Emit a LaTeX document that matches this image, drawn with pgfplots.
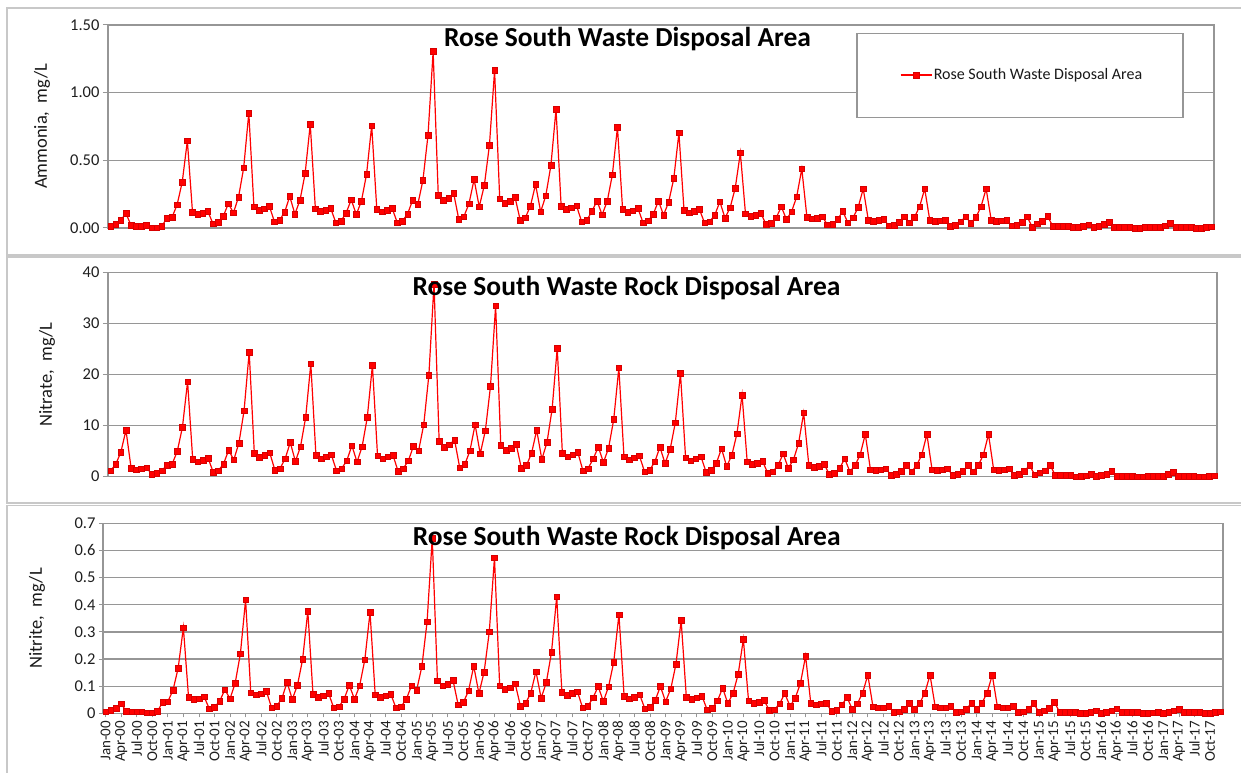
\documentclass[border=0pt]{standalone}
\usepackage{fontspec}
\setmainfont{Carlito}
\usepackage{pgfplots}
\usepackage{pgfplotstable}
\pgfplotsset{compat=1.18}

\definecolor{seriesred}{RGB}{255,0,0}
\definecolor{markedge}{RGB}{215,0,0}
\definecolor{gridgray}{RGB}{150,150,150}
\definecolor{framegray}{RGB}{200,200,200}
\definecolor{ticktext}{RGB}{30,30,30}

% Monthly results, index 0 = Jan-00 ... 215 = Dec-17
\pgfplotstableread{
m v
0 0.012
1 0.030
2 0.057
3 0.108
4 0.020
5 0.015
6 0.015
7 0.020
8 0.003
9 0.003
10 0.012
11 0.074
12 0.079
13 0.172
14 0.340
15 0.644
16 0.118
17 0.100
18 0.110
19 0.123
20 0.032
21 0.042
22 0.086
23 0.180
24 0.113
25 0.229
26 0.445
27 0.850
28 0.157
29 0.133
30 0.143
31 0.162
32 0.047
33 0.057
34 0.118
35 0.233
36 0.103
37 0.206
38 0.403
39 0.767
40 0.143
41 0.123
42 0.133
43 0.145
44 0.039
45 0.052
46 0.110
47 0.209
48 0.100
49 0.200
50 0.398
51 0.757
52 0.138
53 0.120
54 0.130
55 0.145
56 0.039
57 0.052
58 0.103
59 0.206
60 0.174
61 0.351
62 0.686
63 1.305
64 0.243
65 0.206
66 0.221
67 0.258
68 0.066
69 0.084
70 0.180
71 0.359
72 0.157
73 0.315
74 0.614
75 1.165
76 0.216
77 0.184
78 0.199
79 0.226
80 0.059
81 0.076
82 0.162
83 0.322
84 0.120
85 0.238
86 0.462
87 0.877
88 0.162
89 0.138
90 0.150
91 0.165
92 0.047
93 0.057
94 0.123
95 0.200
96 0.098
97 0.197
98 0.393
99 0.744
100 0.138
101 0.118
102 0.128
103 0.145
104 0.039
105 0.054
106 0.103
107 0.200
108 0.096
109 0.192
110 0.366
111 0.703
112 0.130
113 0.113
114 0.125
115 0.138
116 0.039
117 0.047
118 0.096
119 0.194
120 0.074
121 0.150
122 0.295
123 0.555
124 0.106
125 0.088
126 0.096
127 0.110
128 0.027
129 0.037
130 0.076
131 0.157
132 0.064
133 0.120
134 0.231
135 0.437
136 0.081
137 0.069
138 0.074
139 0.084
140 0.025
141 0.027
142 0.064
143 0.123
144 0.039
145 0.076
146 0.152
147 0.290
148 0.057
149 0.052
150 0.057
151 0.064
152 0.017
153 0.020
154 0.044
155 0.084
156 0.039
157 0.081
158 0.157
159 0.290
160 0.057
161 0.052
162 0.054
163 0.057
164 0.015
165 0.020
166 0.047
167 0.084
168 0.037
169 0.079
170 0.157
171 0.290
172 0.057
173 0.049
174 0.054
175 0.057
176 0.017
177 0.022
178 0.044
179 0.084
180 0.007
181 0.032
182 0.052
183 0.086
184 0.015
185 0.015
186 0.015
187 0.015
188 0.005
189 0.005
190 0.015
191 0.025
192 0.005
193 0.012
194 0.027
195 0.042
196 0.005
197 0.005
198 0.005
199 0.005
200 0.000
201 0.000
202 0.007
203 0.007
204 0.005
205 0.005
206 0.017
207 0.034
208 0.005
209 0.005
210 0.005
211 0.005
212 0.000
213 0.000
214 0.005
215 0.010
}\ammonia

\pgfplotstableread{
m v
0 1.2
1 2.4
2 4.8
3 9.1
4 1.7
5 1.4
6 1.6
7 1.8
8 0.5
9 0.7
10 1.2
11 2.3
12 2.5
13 5.0
14 9.7
15 18.6
16 3.4
17 2.9
18 3.2
19 3.6
20 0.9
21 1.2
22 2.5
23 5.2
24 3.3
25 6.6
26 12.9
27 24.4
28 4.6
29 3.8
30 4.2
31 4.7
32 1.3
33 1.6
34 3.5
35 6.7
36 3.0
37 5.9
38 11.6
39 22.1
40 4.2
41 3.5
42 3.9
43 4.3
44 1.2
45 1.6
46 3.1
47 6.1
48 2.9
49 5.9
50 11.6
51 21.8
52 4.1
53 3.5
54 3.9
55 4.2
56 1.1
57 1.6
58 3.1
59 6.0
60 5.1
61 10.2
62 19.9
63 37.7
64 6.9
65 5.8
66 6.3
67 7.2
68 1.8
69 2.4
70 5.1
71 10.2
72 4.5
73 9.0
74 17.7
75 33.5
76 6.2
77 5.2
78 5.6
79 6.4
80 1.7
81 2.2
82 4.6
83 9.1
84 3.4
85 6.7
86 13.2
87 25.2
88 4.6
89 3.9
90 4.3
91 4.8
92 1.2
93 1.6
94 3.5
95 5.8
96 2.8
97 5.6
98 11.2
99 21.3
100 3.9
101 3.3
102 3.7
103 4.1
104 1.0
105 1.3
106 2.9
107 5.8
108 2.6
109 5.4
110 10.6
111 20.2
112 3.7
113 3.1
114 3.5
115 3.9
116 0.9
117 1.3
118 2.7
119 5.5
120 2.0
121 4.2
122 8.4
123 16.0
124 2.9
125 2.4
126 2.6
127 3.0
128 0.7
129 1.0
130 2.2
131 4.5
132 1.7
133 3.3
134 6.5
135 12.5
136 2.3
137 1.9
138 2.1
139 2.4
140 0.5
141 0.7
142 1.7
143 3.5
144 1.0
145 2.2
146 4.3
147 8.3
148 1.4
149 1.3
150 1.4
151 1.6
152 0.3
153 0.5
154 1.1
155 2.2
156 1.0
157 2.2
158 4.3
159 8.3
160 1.4
161 1.3
162 1.4
163 1.6
164 0.3
165 0.5
166 1.1
167 2.2
168 1.0
169 2.2
170 4.3
171 8.3
172 1.4
173 1.3
174 1.4
175 1.6
176 0.3
177 0.5
178 1.1
179 2.2
180 0.4
181 0.8
182 1.2
183 2.3
184 0.3
185 0.3
186 0.3
187 0.3
188 0.0
189 0.1
190 0.2
191 0.5
192 0.1
193 0.3
194 0.5
195 1.1
196 0.1
197 0.1
198 0.1
199 0.1
200 0.0
201 0.0
202 0.1
203 0.1
204 0.1
205 0.1
206 0.5
207 0.9
208 0.1
209 0.1
210 0.1
211 0.1
212 0.0
213 0.0
214 0.1
215 0.2
}\nitrate

\pgfplotstableread{
m v
0 0.006
1 0.011
2 0.018
3 0.036
4 0.007
5 0.006
6 0.006
7 0.006
8 0.002
9 0.002
10 0.007
11 0.041
12 0.043
13 0.085
14 0.167
15 0.316
16 0.059
17 0.052
18 0.054
19 0.061
20 0.017
21 0.022
22 0.045
23 0.087
24 0.054
25 0.112
26 0.220
27 0.418
28 0.076
29 0.068
30 0.072
31 0.082
32 0.021
33 0.026
34 0.055
35 0.114
36 0.052
37 0.103
38 0.199
39 0.376
40 0.070
41 0.060
42 0.065
43 0.074
44 0.020
45 0.025
46 0.052
47 0.104
48 0.052
49 0.102
50 0.198
51 0.372
52 0.068
53 0.059
54 0.065
55 0.071
56 0.020
57 0.025
58 0.052
59 0.102
60 0.086
61 0.173
62 0.337
63 0.645
64 0.120
65 0.101
66 0.108
67 0.122
68 0.031
69 0.040
70 0.083
71 0.174
72 0.073
73 0.152
74 0.300
75 0.574
76 0.102
77 0.089
78 0.095
79 0.109
80 0.027
81 0.037
82 0.075
83 0.154
84 0.056
85 0.114
86 0.225
87 0.430
88 0.078
89 0.067
90 0.073
91 0.080
92 0.020
93 0.026
94 0.057
95 0.099
96 0.044
97 0.098
98 0.189
99 0.364
100 0.064
101 0.054
102 0.060
103 0.069
104 0.017
105 0.022
106 0.048
107 0.099
108 0.043
109 0.090
110 0.181
111 0.343
112 0.060
113 0.052
114 0.057
115 0.064
116 0.014
117 0.019
118 0.046
119 0.093
120 0.037
121 0.073
122 0.144
123 0.273
124 0.046
125 0.038
126 0.042
127 0.048
128 0.011
129 0.014
130 0.036
131 0.073
132 0.026
133 0.056
134 0.110
135 0.211
136 0.038
137 0.031
138 0.035
139 0.038
140 0.007
141 0.011
142 0.031
143 0.059
144 0.015
145 0.036
146 0.075
147 0.141
148 0.024
149 0.020
150 0.021
151 0.026
152 0.005
153 0.006
154 0.016
155 0.037
156 0.016
157 0.037
158 0.075
159 0.141
160 0.024
161 0.020
162 0.021
163 0.026
164 0.005
165 0.006
166 0.016
167 0.037
168 0.016
169 0.037
170 0.075
171 0.141
172 0.024
173 0.020
174 0.021
175 0.026
176 0.005
177 0.006
178 0.016
179 0.037
180 0.004
181 0.010
182 0.019
183 0.040
184 0.005
185 0.005
186 0.005
187 0.005
188 0.001
189 0.001
190 0.004
191 0.009
192 0.001
193 0.004
194 0.009
195 0.017
196 0.004
197 0.004
198 0.004
199 0.004
200 0.001
201 0.001
202 0.002
203 0.004
204 0.001
205 0.005
206 0.009
207 0.016
208 0.004
209 0.004
210 0.004
211 0.004
212 0.001
213 0.001
214 0.004
215 0.006
}\nitrite

\pgfplotsset{
  panel/.style={
    scale only axis, anchor=south west, clip=false,
    xmin=-0.5, xmax=215.5, ymin=0,
    axis line style={gridgray, line width=1.3pt},
    ymajorgrids, major grid style={gridgray, line width=1.3pt},
    tick style={gridgray, line width=1pt},
    major tick length=5pt, tick align=outside,
    ytick pos=left, xtick pos=bottom,
    yticklabel style={font=\fontsize{16.5}{18}\selectfont, text=ticktext,
      /pgf/number format/assume math mode=true},
    ylabel style={font=\fontsize{18.5}{20}\selectfont, text=black!90, anchor=center},
  },
  rseries/.style={color=seriesred, line width=1.2pt, mark=square*, mark size=2.8pt,
    mark options={fill=seriesred, draw=markedge, line width=0.4pt}},
}

\begin{document}
\begin{tikzpicture}
\path[use as bounding box] (0pt,0pt) rectangle (1241pt,772pt);
\begin{scope}
\clip (0pt,0pt) rectangle (1241pt,772pt);
% chart area frames
\draw[framegray, line width=1.5pt] (7pt,764pt) rectangle (1260pt,517pt);
\draw[framegray, line width=1.5pt] (7pt,515pt) rectangle (1260pt,269pt);
\draw[framegray, line width=1.5pt] (7pt,266.5pt) rectangle (1260pt,-20pt);
\end{scope}

% Ammonia
\begin{axis}[panel, at={(108pt,544pt)}, width=1106pt, height=203pt,
  ymax=1.5, ytick={0,0.5,1,1.5}, xtick=\empty,
  yticklabel style={/pgf/number format/.cd, fixed, fixed zerofill, precision=2},
  ylabel={Ammonia,\ \ mg/L},
  ylabel style={at={(axis description cs:-0.0597,0.5)}},
  legend style={draw=none, fill=none, at={(rel axis cs:0.716,0.754)}, anchor=west,
    inner sep=0pt, font=\fontsize{16}{18}\selectfont, text=black!90,
    nodes={inner sep=1.5pt}},
  legend image code/.code={\draw[mark repeat=2, mark phase=2] plot coordinates {(0pt,0pt) (15.5pt,0pt) (31pt,0pt)};},
]
\draw[gridgray, line width=1.3pt, fill=white] (rel axis cs:0.6772,0.959) rectangle (rel axis cs:0.972,0.543);
\addplot[rseries] table[x=m, y=v] {\ammonia};
\addlegendentry{Rose South Waste Disposal Area}
\end{axis}

% Nitrate
\begin{axis}[panel, at={(108pt,295.3pt)}, width=1109pt, height=204.4pt,
  ymax=40, ytick={0,10,20,30,40}, xtick=\empty,
  ylabel={Nitrate,\ \ mg/L},
  ylabel style={at={(axis description cs:-0.055,0.5)}},
]
\addplot[rseries] table[x=m, y=v] {\nitrate};
\end{axis}

% Nitrite
\begin{axis}[panel, at={(103pt,58.7pt)}, width=1120pt, height=190pt,
  ymax=0.7, ytick={0,0.1,0.2,0.3,0.4,0.5,0.6,0.7},
  yticklabel style={/pgf/number format/.cd, fixed, precision=1},
  ylabel={Nitrite,\ \ mg/L},
  ylabel style={at={(axis description cs:-0.0589,0.5)}},
  xtick={0,3,...,213},
  xticklabels={Jan-00,Apr-00,Jul-00,Oct-00,Jan-01,Apr-01,Jul-01,Oct-01,Jan-02,Apr-02,Jul-02,Oct-02,
    Jan-03,Apr-03,Jul-03,Oct-03,Jan-04,Apr-04,Jul-04,Oct-04,Jan-05,Apr-05,Jul-05,Oct-05,
    Jan-06,Apr-06,Jul-06,Oct-06,Jan-07,Apr-07,Jul-07,Oct-07,Jan-08,Apr-08,Jul-08,Oct-08,
    Jan-09,Apr-09,Jul-09,Oct-09,Jan-10,Apr-10,Jul-10,Oct-10,Jan-11,Apr-11,Jul-11,Oct-11,
    Jan-12,Apr-12,Jul-12,Oct-12,Jan-13,Apr-13,Jul-13,Oct-13,Jan-14,Apr-14,Jul-14,Oct-14,
    Jan-15,Apr-15,Jul-15,Oct-15,Jan-16,Apr-16,Jul-16,Oct-16,Jan-17,Apr-17,Jul-17,Oct-17},
  xticklabel style={rotate=90, anchor=east, font=\fontsize{15}{16}\selectfont, text=ticktext},
  x tick style={gridgray, line width=0.8pt}, major tick length=4pt,
]
\addplot[rseries] table[x=m, y=v] {\nitrite};
\end{axis}

% panel titles
\node[anchor=base, font=\fontsize{27.5}{30}\selectfont\bfseries] at (627.5pt,725.3pt) {Rose South Waste Disposal Area};
\node[anchor=base, font=\fontsize{27.5}{30}\selectfont\bfseries] at (626.5pt,476.3pt) {Rose South Waste Rock Disposal Area};
\node[anchor=base, font=\fontsize{27.5}{30}\selectfont\bfseries] at (626.7pt,227pt) {Rose South Waste Rock Disposal Area};
\end{tikzpicture}
\end{document}
